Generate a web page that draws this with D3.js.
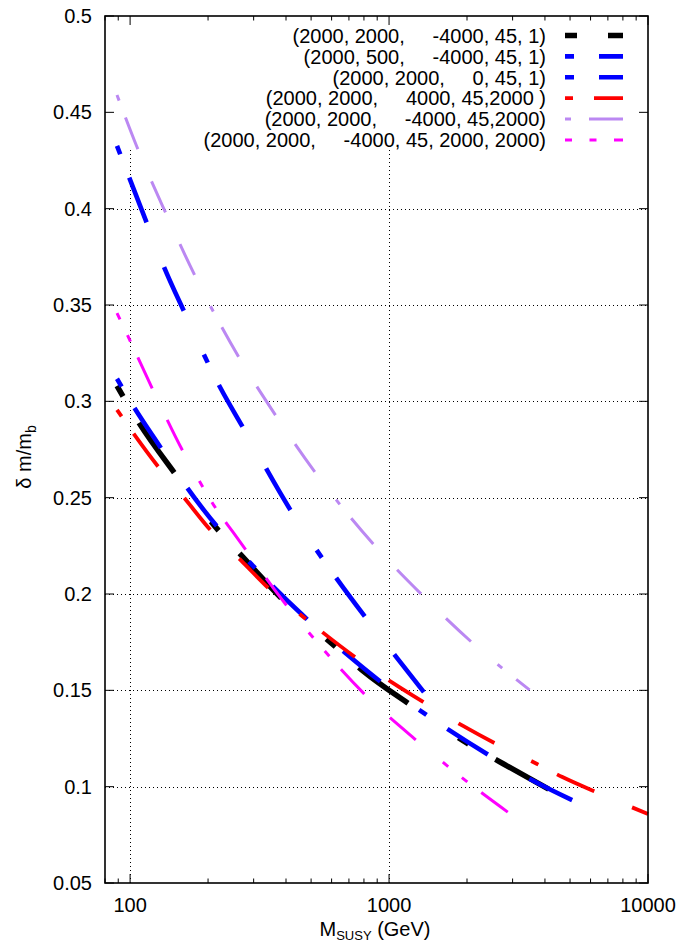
<!DOCTYPE html>
<html><head><meta charset="utf-8">
<script src="https://cdn.jsdelivr.net/npm/d3@7/dist/d3.min.js"></script>
<style>
body{margin:0;background:#fff;}
text{font-family:"Liberation Sans",Arial,Helvetica,sans-serif;fill:#000;}
</style>
</head><body>
<svg id="chart" width="678" height="944"></svg>
<script>
// ---------------- data ----------------
const legendLabels = [
  "(2000, 2000,     -4000, 45, 1)",
  "(2000, 500,     -4000, 45, 1)",
  "(2000, 2000,     0, 45, 1)",
  "(2000, 2000,     4000, 45,2000 )",
  "(2000, 2000,     -4000, 45,2000)",
  "(2000, 2000,     -4000, 45, 2000, 2000)"
];
const mBlack = [89, 108, 148, 221, 269, 389, 636, 795, 1242, 1988, 2759, 4143];
const vBlack = [0.308, 0.289, 0.263, 0.2325, 0.220, 0.197, 0.1714, 0.160, 0.1414, 0.1228, 0.1119, 0.0986];
const mBlue500 = [89, 116, 135.5, 162, 222.6, 274, 420, 636, 820, 1071, 1400];
const vBlue500 = [0.4326, 0.3926, 0.3694, 0.3463, 0.3073, 0.286, 0.2427, 0.2069, 0.187, 0.167, 0.1471];
const mBlue0 = [89, 103.6, 131.5, 166.8, 218, 294, 459, 675, 937, 1433, 2463, 3573, 5260];
const vBlue0 = [0.3117, 0.2969, 0.2758, 0.2548, 0.2346, 0.2155, 0.1896, 0.1696, 0.154, 0.1362, 0.1159, 0.1033, 0.0921];
const mRed = [89, 103, 128.4, 162, 205.5, 268.6, 345.8, 486.7, 749.6, 1030, 1400, 1931, 2652, 3714, 4671, 6533, 10000];
const vRed = [0.2956, 0.2834, 0.2661, 0.2498, 0.2328, 0.2173, 0.2025, 0.1861, 0.1667, 0.154, 0.1428, 0.1315, 0.1215, 0.1119, 0.105, 0.0963, 0.0858];
const mPurple = [89, 106.4, 136.7, 177, 262.9, 365.3, 518.8, 869.4, 1339, 2073, 3488];
const vPurple = [0.459, 0.4319, 0.3983, 0.3659, 0.3229, 0.2926, 0.2631, 0.2259, 0.1996, 0.1753, 0.1502];
const mMagenta = [89, 100.6, 122, 159.5, 190.6, 213, 253, 400.2, 508.9, 800.3, 1261, 1683, 1988, 2874];
const vMagenta = [0.3458, 0.3307, 0.3065, 0.2744, 0.2557, 0.245, 0.2311, 0.1944, 0.1774, 0.1483, 0.1246, 0.1107, 0.1029, 0.0868];
const xMajorTicks = [100, 1000, 10000];
const xTickLabels = ["100", "1000", "10000"];
const yTicks = [0.05, 0.1, 0.15, 0.2, 0.25, 0.3, 0.35, 0.4, 0.45, 0.5];
const yTickLabels = ["0.05", "0.1", "0.15", "0.2", "0.25", "0.3", "0.35", "0.4", "0.45", "0.5"];

// ---------------- styles ----------------
const seriesM = [mBlack, mBlue500, mBlue0, mRed, mPurple, mMagenta];
const seriesV = [vBlack, vBlue500, vBlue0, vRed, vPurple, vMagenta];
const colors = ["#000000", "#0000ff", "#0000ff", "#ff0000", "#bb88f2", "#ff00ff"];
const widths = [5.5, 4.6, 4.6, 3.8, 3, 3];
const dashes = [
  "12,31,61,61",
  "9,25,48,48,48,48",
  "9,25,48,48,48,48",
  "8,21,41,41,41,41,41,41",
  "6,18,34,35,34,35,34,35",
  "7,17.5,7,17.5,34,35,34,35"
];

const L = 105, R = 648, T = 16, B = 883;
const svg = d3.select("#chart");
const x = d3.scaleLog().domain([80, 10000]).range([L, R]);
const y = d3.scaleLinear().domain([0.05, 0.5]).range([B, T]);
const keyBottom = 150;

// grid
const grid = svg.append("g").attr("stroke", "#000").attr("stroke-width", 1)
  .attr("stroke-dasharray", "1.2,2.8").attr("shape-rendering", "crispEdges");
yTicks.filter(v => v > 0.06 && y(v) > keyBottom).forEach(v => {
  grid.append("line").attr("x1", L).attr("x2", R).attr("y1", Math.round(y(v)) + 0.5).attr("y2", Math.round(y(v)) + 0.5);
});
xMajorTicks.filter(v => v < 10000).forEach(v => {
  grid.append("line").attr("x1", Math.round(x(v)) + 0.5).attr("x2", Math.round(x(v)) + 0.5).attr("y1", B).attr("y2", keyBottom);
});

// ticks
const ticks = svg.append("g").attr("stroke", "#000").attr("stroke-width", 1);
yTicks.forEach(v => {
  const yy = y(v);
  ticks.append("line").attr("x1", L).attr("x2", L + 9).attr("y1", yy).attr("y2", yy);
  ticks.append("line").attr("x1", R).attr("x2", R - 9).attr("y1", yy).attr("y2", yy);
});
const minorTicks = [];
[10, 100, 1000].forEach(d => { for (let k = 2; k <= 9; k++) { const v = d * k; if (v >= 80 && v <= 10000) minorTicks.push(v); } });
minorTicks.forEach(v => {
  const xx = x(v);
  ticks.append("line").attr("x1", xx).attr("x2", xx).attr("y1", B).attr("y2", B - 4.5);
  ticks.append("line").attr("x1", xx).attr("x2", xx).attr("y1", T).attr("y2", T + 4.5);
});
xMajorTicks.forEach(v => {
  const xx = x(v);
  ticks.append("line").attr("x1", xx).attr("x2", xx).attr("y1", B).attr("y2", B - 9);
  ticks.append("line").attr("x1", xx).attr("x2", xx).attr("y1", T).attr("y2", T + 9);
});

// tick labels
yTicks.forEach((v, i) => {
  svg.append("text").attr("x", 92).attr("y", y(v) + 7).attr("text-anchor", "end")
    .attr("font-size", 20).text(yTickLabels[i]);
});
xMajorTicks.forEach((v, i) => {
  svg.append("text").attr("x", x(v)).attr("y", 912).attr("text-anchor", "middle")
    .attr("font-size", 20).text(xTickLabels[i]);
});

// axis titles
const xt = svg.append("text").attr("x", 375).attr("y", 936).attr("text-anchor", "middle").attr("font-size", 20);
xt.append("tspan").text("M");
xt.append("tspan").attr("font-size", 13).attr("dy", 4).text("SUSY");
xt.append("tspan").attr("dy", -4).text(" (GeV)");

const yt = svg.append("text").attr("transform", "translate(31,457) rotate(-90)").attr("text-anchor", "middle").attr("font-size", 20);
yt.append("tspan").text("δ m/m");
yt.append("tspan").attr("font-size", 14).attr("dy", 5).text("b");

// curves
const line = d3.line().x(d => x(d[0])).y(d => y(d[1])).curve(d3.curveMonotoneX);
const plot = svg.append("g");
seriesM.forEach((ms, i) => {
  const pts = ms.map((m, j) => [m, seriesV[i][j]]);
  plot.append("path").attr("d", line(pts)).attr("fill", "none")
    .attr("stroke", colors[i]).attr("stroke-width", widths[i])
    .attr("stroke-dasharray", dashes[i]).attr("stroke-linecap", "butt")
    .attr("stroke-linejoin", "round");
});

// legend
legendLabels.forEach((lab, i) => {
  const cy = 35.5 + i * 20.9;
  svg.append("text").attr("x", 546).attr("y", cy + 7.2).attr("text-anchor", "end")
    .attr("font-size", 20).style("white-space", "pre").attr("xml:space", "preserve").text(lab);
  svg.append("line").attr("x1", 565).attr("x2", 623).attr("y1", cy).attr("y2", cy)
    .attr("stroke", colors[i]).attr("stroke-width", widths[i])
    .attr("stroke-dasharray", dashes[i]).attr("stroke-linecap", "butt");
});

// border
svg.append("rect").attr("x", L).attr("y", T).attr("width", R - L).attr("height", B - T)
  .attr("fill", "none").attr("stroke", "#000").attr("stroke-width", 1.6);
</script>
</body></html>
